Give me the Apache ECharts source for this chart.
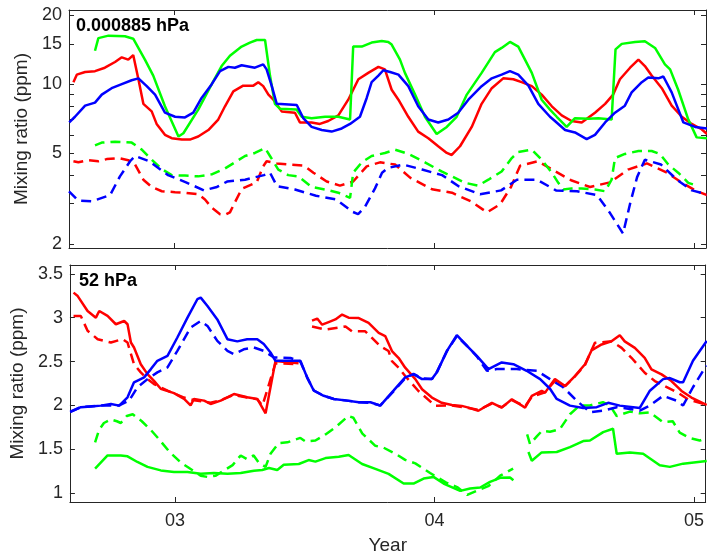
<!DOCTYPE html>
<html>
<head>
<meta charset="utf-8">
<script src="https://cdn.jsdelivr.net/npm/echarts@6/dist/echarts.min.js"></script>
<style>
  html, body { margin: 0; padding: 0; background: #fff; }
  #chart { width: 707px; height: 556px; }
</style>
</head>
<body>
<div id="chart"></div>
<script>
// axis ticks / labels
const xTicks = [2003, 2004, 2005];
const topTicks = [2, 5, 10, 15, 20];
const topMinorTicks = [2, 3, 4, 5, 6, 7, 8, 9, 10, 15, 20];
const bottomTicks = [1, 1.5, 2, 2.5, 3, 3.5];
const panelLabels = ["0.000885 hPa", "52 hPa"];

// upper panel (0.000885 hPa), ppm
const topRedSolid = [[2002.612,10.2],[2002.625,11.0],[2002.657,11.3],[2002.695,11.4],[2002.733,11.8],[2002.772,12.5],[2002.798,13.1],[2002.823,12.8],[2002.842,13.4],[2002.862,10.5],[2002.881,8.2],[2002.913,7.6],[2002.932,6.7],[2002.964,6.0],[2002.990,5.8],[2003.029,5.72],[2003.060,5.72],[2003.092,5.9],[2003.131,6.3],[2003.169,7.0],[2003.195,8.0],[2003.227,9.3],[2003.265,9.85],[2003.304,9.85],[2003.323,10.2],[2003.342,9.8],[2003.362,9.0],[2003.381,8.55],[2003.413,7.6],[2003.464,7.5],[2003.483,6.8],[2003.528,6.8],[2003.560,6.7],[2003.592,6.9],[2003.631,7.3],[2003.669,8.55],[2003.708,10.5],[2003.746,11.2],[2003.785,11.9],[2003.810,11.6],[2003.836,9.45],[2003.862,8.55],[2003.900,7.2],[2003.938,6.2],[2003.977,5.8],[2004.015,5.35],[2004.048,5.0],[2004.067,4.9],[2004.099,5.35],[2004.144,6.5],[2004.182,8.2],[2004.221,9.6],[2004.265,10.6],[2004.304,10.5],[2004.336,10.2],[2004.375,9.8],[2004.413,9.0],[2004.452,8.0],[2004.490,7.3],[2004.528,6.9],[2004.567,6.8],[2004.618,7.5],[2004.657,8.2],[2004.688,9.0],[2004.714,10.5],[2004.753,11.8],[2004.785,12.8],[2004.810,12.0],[2004.836,10.9],[2004.875,9.6],[2004.913,8.05],[2004.952,7.2],[2004.990,6.7],[2005.028,6.35],[2005.049,6.05]];
const topGreenSolid = [[2002.695,14.0],[2002.708,15.9],[2002.747,16.3],[2002.810,16.2],[2002.842,15.8],[2002.887,12.8],[2002.919,10.9],[2002.964,8.0],[2003.016,5.9],[2003.035,6.1],[2003.092,7.74],[2003.144,10.0],[2003.182,12.0],[2003.214,13.3],[2003.259,14.6],[2003.291,15.2],[2003.317,15.6],[2003.349,15.6],[2003.368,10.9],[2003.387,8.2],[2003.407,7.8],[2003.470,7.74],[2003.490,7.2],[2003.528,7.1],[2003.580,7.2],[2003.631,7.2],[2003.676,7.0],[2003.688,14.6],[2003.721,14.6],[2003.759,15.2],[2003.798,15.45],[2003.823,15.3],[2003.836,14.9],[2003.868,12.8],[2003.887,11.2],[2003.926,9.0],[2003.964,7.2],[2004.009,6.05],[2004.048,6.5],[2004.086,7.2],[2004.125,9.0],[2004.182,11.2],[2004.233,13.8],[2004.259,14.4],[2004.291,15.3],[2004.323,14.6],[2004.375,11.2],[2004.413,8.55],[2004.445,7.74],[2004.471,7.2],[2004.509,6.5],[2004.541,7.1],[2004.593,7.05],[2004.631,7.1],[2004.682,7.0],[2004.697,14.2],[2004.721,15.0],[2004.772,15.3],[2004.810,15.4],[2004.849,14.4],[2004.887,12.2],[2004.907,11.6],[2004.938,9.45],[2004.977,7.0],[2005.009,5.85],[2005.049,5.8]];
const topBlueSolid = [[2002.596,6.8],[2002.618,7.2],[2002.657,8.05],[2002.695,8.3],[2002.721,9.0],[2002.759,9.6],[2002.798,10.0],[2002.836,10.4],[2002.862,10.6],[2002.894,9.8],[2002.926,9.0],[2002.964,7.5],[2003.003,7.2],[2003.041,7.15],[2003.073,7.5],[2003.105,8.7],[2003.144,10.0],[2003.176,11.4],[2003.208,11.9],[2003.233,11.8],[2003.259,12.1],[2003.310,11.8],[2003.342,12.2],[2003.355,11.6],[2003.375,9.8],[2003.394,8.2],[2003.471,8.1],[2003.496,7.1],[2003.528,6.5],[2003.567,6.3],[2003.605,6.2],[2003.644,6.4],[2003.676,6.7],[2003.714,7.2],[2003.740,8.7],[2003.759,10.2],[2003.785,10.9],[2003.804,11.5],[2003.830,11.3],[2003.862,11.0],[2003.900,9.8],[2003.938,8.0],[2003.977,7.0],[2004.015,6.8],[2004.054,7.0],[2004.092,7.5],[2004.131,8.55],[2004.182,9.8],[2004.221,10.6],[2004.259,11.0],[2004.291,11.4],[2004.323,11.0],[2004.362,9.85],[2004.400,8.2],[2004.445,7.2],[2004.464,6.9],[2004.503,6.3],[2004.541,6.15],[2004.586,5.75],[2004.618,6.0],[2004.657,6.8],[2004.695,7.5],[2004.733,8.05],[2004.759,9.2],[2004.798,10.2],[2004.823,10.7],[2004.862,10.6],[2004.881,10.8],[2004.913,9.2],[2004.958,6.8],[2005.003,6.5],[2005.049,6.4]];
const topRedDashed = [[2002.612,4.6],[2002.631,4.55],[2002.669,4.65],[2002.708,4.6],[2002.740,4.7],[2002.785,4.75],[2002.823,4.65],[2002.849,4.45],[2002.881,3.82],[2002.913,3.55],[2002.952,3.4],[2003.003,3.37],[2003.041,3.35],[2003.092,3.3],[2003.118,3.13],[2003.144,2.88],[2003.176,2.7],[2003.195,2.68],[2003.214,2.75],[2003.259,3.48],[2003.317,3.72],[2003.342,4.37],[2003.355,4.6],[2003.394,4.5],[2003.445,4.45],[2003.499,4.4],[2003.535,4.1],[2003.586,3.75],[2003.637,3.6],[2003.688,3.75],[2003.740,4.37],[2003.791,4.55],[2003.849,4.45],[2003.907,3.9],[2003.991,3.47],[2004.068,3.35],[2004.141,3.07],[2004.203,2.75],[2004.253,2.98],[2004.295,3.55],[2004.330,4.4],[2004.399,4.6],[2004.453,4.23],[2004.526,3.8],[2004.599,3.55],[2004.676,3.72],[2004.745,4.23],[2004.818,4.5],[2004.895,4.1],[2004.953,3.7],[2005.010,3.4],[2005.049,3.27]];
const topGreenDashed = [[2002.695,5.4],[2002.721,5.55],[2002.772,5.6],[2002.836,5.55],[2002.875,5.17],[2002.913,4.67],[2002.952,4.25],[2002.990,4.0],[2003.041,3.98],[2003.092,3.95],[2003.144,4.03],[2003.195,4.28],[2003.233,4.55],[2003.272,4.85],[2003.310,5.0],[2003.349,5.25],[2003.368,4.85],[2003.400,4.23],[2003.438,4.0],[2003.477,3.95],[2003.528,3.55],[2003.580,3.46],[2003.631,3.35],[2003.676,3.18],[2003.688,4.1],[2003.721,4.55],[2003.759,4.85],[2003.810,5.0],[2003.849,5.17],[2003.900,4.95],[2003.964,4.55],[2004.028,4.15],[2004.067,3.95],[2004.118,3.7],[2004.169,3.6],[2004.208,3.82],[2004.259,4.15],[2004.298,4.75],[2004.323,5.05],[2004.375,5.17],[2004.413,4.67],[2004.452,4.1],[2004.477,3.7],[2004.496,3.46],[2004.528,3.5],[2004.567,3.5],[2004.618,3.46],[2004.657,3.4],[2004.682,3.82],[2004.695,4.75],[2004.733,4.95],[2004.785,5.1],[2004.836,5.1],[2004.868,4.95],[2004.900,4.45],[2004.938,4.1],[2004.977,3.7],[2005.009,3.6]];
const topBlueDashed = [[2002.595,3.4],[2002.630,3.1],[2002.683,3.07],[2002.753,3.27],[2002.791,3.95],[2002.830,4.6],[2002.849,4.85],[2002.903,4.6],[2002.976,4.0],[2003.045,3.72],[2003.114,3.43],[2003.164,3.55],[2003.203,3.75],[2003.272,3.82],[2003.345,4.0],[2003.368,4.1],[2003.395,3.58],[2003.464,3.46],[2003.545,3.25],[2003.622,3.13],[2003.687,2.76],[2003.707,2.7],[2003.733,2.9],[2003.772,3.5],[2003.799,4.1],[2003.822,4.3],[2003.880,4.45],[2003.953,4.23],[2004.030,4.0],[2004.095,3.57],[2004.176,3.3],[2004.257,3.43],[2004.318,3.82],[2004.395,3.82],[2004.468,3.43],[2004.549,3.4],[2004.626,3.27],[2004.676,2.73],[2004.726,2.22],[2004.753,3.0],[2004.780,3.92],[2004.810,4.67],[2004.872,4.45],[2004.933,3.82],[2004.991,3.43],[2005.049,3.3]];

// lower panel (52 hPa), ppm
const bottomRedSolid = [[2002.609,3.285],[2002.625,3.246],[2002.663,3.076],[2002.695,3.0],[2002.708,3.076],[2002.740,3.02],[2002.772,2.925],[2002.804,2.962],[2002.817,2.925],[2002.830,2.717],[2002.842,2.66],[2002.868,2.47],[2002.894,2.357],[2002.919,2.28],[2002.945,2.19],[2002.996,2.14],[2003.035,2.074],[2003.060,2.0],[2003.073,2.074],[2003.112,2.055],[2003.137,2.017],[2003.176,2.055],[2003.227,2.13],[2003.278,2.093],[2003.317,2.074],[2003.349,1.91],[2003.387,2.505],[2003.476,2.48],[2003.500,null],[2003.528,2.966],[2003.548,2.99],[2003.567,2.92],[2003.592,2.95],[2003.618,2.98],[2003.644,3.035],[2003.669,3.0],[2003.708,2.996],[2003.746,2.94],[2003.785,2.826],[2003.810,2.79],[2003.836,2.62],[2003.862,2.54],[2003.887,2.43],[2003.926,2.30],[2003.952,2.184],[2003.990,2.09],[2004.028,2.03],[2004.067,2.006],[2004.105,1.995],[2004.131,1.975],[2004.169,1.94],[2004.221,2.03],[2004.259,1.975],[2004.298,2.07],[2004.349,1.975],[2004.375,2.108],[2004.413,2.165],[2004.426,2.146],[2004.464,2.30],[2004.503,2.22],[2004.541,2.335],[2004.580,2.47],[2004.605,2.627],[2004.644,2.695],[2004.682,2.73],[2004.714,2.8],[2004.733,2.73],[2004.772,2.656],[2004.810,2.543],[2004.836,2.41],[2004.875,2.354],[2004.913,2.278],[2004.952,2.165],[2004.990,2.09],[2005.049,2.006]];
const bottomRedDashed = [[2002.609,3.02],[2002.637,3.02],[2002.663,2.85],[2002.702,2.755],[2002.753,2.717],[2002.798,2.755],[2002.817,2.717],[2002.842,2.47],[2002.868,2.377],[2002.894,2.30],[2002.919,2.244],[2002.971,2.168],[2003.035,2.09],[2003.073,2.06],[2003.137,2.03],[2003.176,2.06],[2003.227,2.12],[2003.278,2.09],[2003.317,2.07],[2003.337,2.0],[2003.387,2.48],[2003.476,2.47],[2003.500,null],[2003.528,2.9],[2003.580,2.865],[2003.657,2.9],[2003.682,2.845],[2003.733,2.845],[2003.759,2.77],[2003.791,2.675],[2003.823,2.62],[2003.836,2.505],[2003.862,2.43],[2003.887,2.335],[2003.938,2.165],[2004.003,1.995],[2004.067,2.0],[2004.131,1.97],[2004.169,1.95],[2004.221,2.02],[2004.259,1.98],[2004.298,2.06],[2004.349,1.99],[2004.375,2.1],[2004.426,2.15],[2004.464,2.28],[2004.503,2.22],[2004.541,2.33],[2004.580,2.46],[2004.618,2.713],[2004.682,2.73],[2004.721,2.656],[2004.759,2.543],[2004.810,2.372],[2004.849,2.278],[2004.887,2.22],[2004.938,2.146],[2004.977,2.07],[2005.049,2.006]];
const bottomGreenSolid = [[2002.692,1.28],[2002.740,1.43],[2002.791,1.43],[2002.817,1.42],[2002.855,1.356],[2002.894,1.30],[2002.945,1.26],[2002.996,1.243],[2003.048,1.243],[2003.099,1.223],[2003.150,1.23],[2003.202,1.223],[2003.253,1.23],[2003.304,1.257],[2003.336,1.265],[2003.362,1.288],[2003.394,1.265],[2003.419,1.325],[2003.477,1.333],[2003.515,1.378],[2003.541,1.36],[2003.580,1.40],[2003.631,1.415],[2003.669,1.435],[2003.721,1.333],[2003.772,1.277],[2003.823,1.22],[2003.881,1.11],[2003.919,1.11],[2003.958,1.167],[2003.996,1.186],[2004.035,1.11],[2004.099,1.027],[2004.137,1.053],[2004.176,1.065],[2004.214,1.13],[2004.253,1.175],[2004.291,1.178],[2004.304,1.147],[2004.330,null],[2004.362,1.47],[2004.375,1.37],[2004.413,1.465],[2004.471,1.47],[2004.522,1.526],[2004.573,1.594],[2004.599,1.60],[2004.650,1.696],[2004.688,1.734],[2004.702,1.45],[2004.753,1.465],[2004.804,1.45],[2004.868,1.318],[2004.907,1.30],[2004.958,1.337],[2005.049,1.368]];
const bottomGreenDashed = [[2002.692,1.58],[2002.707,1.72],[2002.726,1.80],[2002.753,1.84],[2002.776,1.82],[2002.791,1.80],[2002.814,1.88],[2002.837,1.90],[2002.872,1.82],[2002.907,1.72],[2002.937,1.62],[2002.976,1.48],[2003.022,1.35],[2003.053,1.29],[2003.099,1.2],[2003.126,1.185],[2003.157,1.2],[2003.183,1.25],[2003.222,1.32],[2003.253,1.43],[2003.276,1.39],[2003.303,1.43],[2003.322,1.35],[2003.349,1.30],[2003.368,1.45],[2003.399,1.57],[2003.433,1.58],[2003.483,1.63],[2003.503,1.59],[2003.541,1.6],[2003.580,1.67],[2003.618,1.75],[2003.668,1.88],[2003.687,1.86],[2003.722,1.68],[2003.772,1.54],[2003.803,1.52],[2003.849,1.45],[2003.887,1.38],[2003.926,1.34],[2003.983,1.23],[2004.045,1.12],[2004.087,1.07],[2004.126,0.98],[2004.164,1.03],[2004.207,1.08],[2004.253,1.2],[2004.303,1.28],[2004.330,null],[2004.357,1.67],[2004.368,1.56],[2004.395,1.65],[2004.414,1.71],[2004.445,1.70],[2004.483,1.73],[2004.522,1.90],[2004.560,2.0],[2004.599,2.0],[2004.649,2.037],[2004.676,2.0],[2004.702,1.88],[2004.753,1.93],[2004.791,1.91],[2004.830,1.92],[2004.880,1.81],[2004.918,1.82],[2004.945,1.69],[2004.983,1.63],[2005.022,1.60],[2005.049,1.63]];
const bottomBlueSolid = [[2002.596,1.923],[2002.637,1.98],[2002.676,1.987],[2002.714,1.998],[2002.753,2.017],[2002.785,1.998],[2002.817,2.093],[2002.842,2.264],[2002.881,2.32],[2002.907,2.414],[2002.932,2.509],[2002.971,2.565],[2003.009,2.774],[2003.048,3.0],[2003.086,3.21],[2003.099,3.228],[2003.125,3.132],[2003.163,2.98],[2003.202,2.755],[2003.240,2.73],[2003.278,2.755],[2003.317,2.755],[2003.342,2.70],[2003.368,2.604],[2003.387,2.509],[2003.483,2.509],[2003.509,2.32],[2003.535,2.168],[2003.573,2.11],[2003.612,2.074],[2003.663,2.055],[2003.708,2.037],[2003.753,2.037],[2003.791,1.998],[2003.842,2.168],[2003.887,2.32],[2003.919,2.357],[2003.952,2.30],[2003.990,2.30],[2004.009,2.377],[2004.048,2.622],[2004.086,2.80],[2004.125,2.678],[2004.163,2.565],[2004.208,2.414],[2004.259,2.49],[2004.304,2.47],[2004.355,2.395],[2004.407,2.30],[2004.445,2.19],[2004.471,2.074],[2004.522,1.998],[2004.573,1.972],[2004.625,1.98],[2004.669,2.03],[2004.714,1.998],[2004.791,1.972],[2004.830,2.168],[2004.881,2.30],[2004.907,2.312],[2004.945,2.264],[2004.958,2.264],[2004.996,2.509],[2005.049,2.735]];
const bottomBlueDashed = [[2002.596,1.93],[2002.637,1.98],[2002.714,2.0],[2002.785,2.0],[2002.823,2.055],[2002.855,2.207],[2002.894,2.30],[2002.932,2.377],[2002.971,2.434],[2003.009,2.622],[2003.060,2.887],[2003.099,2.962],[2003.125,2.906],[2003.163,2.735],[2003.202,2.622],[2003.227,2.585],[2003.265,2.64],[2003.304,2.66],[2003.342,2.622],[2003.381,2.547],[2003.445,2.54],[2003.483,2.50],[2003.509,2.32],[2003.535,2.17],[2003.573,2.11],[2003.612,2.074],[2003.663,2.055],[2003.708,2.037],[2003.753,2.03],[2003.791,2.0],[2003.842,2.16],[2003.887,2.31],[2003.919,2.36],[2003.952,2.31],[2003.990,2.30],[2004.009,2.38],[2004.048,2.62],[2004.086,2.79],[2004.125,2.68],[2004.163,2.56],[2004.202,2.395],[2004.240,2.414],[2004.317,2.414],[2004.394,2.395],[2004.445,2.30],[2004.496,2.207],[2004.548,2.055],[2004.599,1.923],[2004.650,1.94],[2004.702,1.98],[2004.753,1.96],[2004.791,1.94],[2004.830,2.0],[2004.881,2.11],[2004.932,2.055],[2004.958,2.0],[2004.996,2.207],[2005.035,2.395],[2005.049,2.452]];

const xMin = 2002.595, xMax = 2005.045;
const topMin = 1.92, topMax = 21.1;
const bottomMin = 0.9, bottomMax = 3.6;

const RED = "#ff0000", GREEN = "#00ff00", BLUE = "#0000ff";
const FONT = "'Liberation Sans', Arial, Helvetica, sans-serif";
const ink = "#262626";
const lineCfg = { show: true, lineStyle: { color: ink, width: 1 } };

function ticks(values) {
  return { show: true, inside: true, length: 5, customValues: values, lineStyle: { color: ink, width: 1 } };
}
const noLabel = { show: false };
const labelStyle = { color: ink, fontSize: 18, fontFamily: FONT };
const nameStyle = { color: ink, fontSize: 19, fontFamily: FONT };

function xAxisFor(gridIndex, position, withLabels) {
  const ax = {
    type: "value", gridIndex, position, min: xMin, max: xMax,
    axisLine: lineCfg, axisTick: ticks(xTicks), splitLine: { show: false },
    axisLabel: withLabels
      ? { ...labelStyle, margin: 10, customValues: xTicks, formatter: (v) => String(v).slice(2) }
      : noLabel,
  };
  if (withLabels) {
    Object.assign(ax, { name: "Year", nameLocation: "middle", nameGap: 34, nameTextStyle: nameStyle });
  }
  return ax;
}

const log10 = (v) => Math.log10(v);

function series(data, color, dashed, x, y) {
  return {
    type: "line", xAxisIndex: x, yAxisIndex: y, data,
    showSymbol: false, symbol: "none", connectNulls: false, animation: false,
    lineStyle: { color, width: 2.5, type: dashed ? [10, 6] : "solid" },
  };
}

const chart = echarts.init(document.getElementById("chart"));
chart.setOption({
  animation: false,
  backgroundColor: "#fff",
  grid: [
    { left: 69, top: 10, width: 637, height: 238 },
    { left: 69, top: 265, width: 637, height: 238 },
  ],
  xAxis: [
    xAxisFor(0, "bottom", false),
    xAxisFor(0, "top", false),
    xAxisFor(1, "bottom", true),
    xAxisFor(1, "top", false),
  ],
  yAxis: [
    // data axis of the upper panel (log scale)
    { type: "log", gridIndex: 0, min: topMin, max: topMax, show: false },
    // tick/label axes of the upper panel, in log10 space
    {
      type: "value", gridIndex: 0, position: "left", min: log10(topMin), max: log10(topMax),
      axisLine: lineCfg, axisTick: ticks(topMinorTicks.map(log10)), splitLine: { show: false },
      axisLabel: { ...labelStyle, margin: 7, customValues: topTicks.map(log10), formatter: (v) => String(Math.round(Math.pow(10, v))) },
      name: "Mixing ratio (ppm)", nameLocation: "middle", nameGap: 37, nameTextStyle: nameStyle,
    },
    {
      type: "value", gridIndex: 0, position: "right", min: log10(topMin), max: log10(topMax),
      axisLine: lineCfg, axisTick: ticks(topMinorTicks.map(log10)), splitLine: { show: false }, axisLabel: noLabel,
    },
    {
      type: "value", gridIndex: 1, position: "left", min: bottomMin, max: bottomMax,
      axisLine: lineCfg, axisTick: ticks(bottomTicks), splitLine: { show: false },
      axisLabel: { ...labelStyle, margin: 7, customValues: bottomTicks },
      name: "Mixing ratio (ppm)", nameLocation: "middle", nameGap: 37, nameTextStyle: nameStyle,
    },
    {
      type: "value", gridIndex: 1, position: "right", min: bottomMin, max: bottomMax,
      axisLine: lineCfg, axisTick: ticks(bottomTicks), splitLine: { show: false }, axisLabel: noLabel,
    },
  ],
  graphic: [
    { type: "text", left: 76, top: 17, style: { text: panelLabels[0], font: `bold 18px ${FONT}`, fill: "#000" } },
    { type: "text", left: 79, top: 272, style: { text: panelLabels[1], font: `bold 18px ${FONT}`, fill: "#000" } },
  ],
  series: [
    series(topRedDashed, RED, true, 0, 0),
    series(topGreenDashed, GREEN, true, 0, 0),
    series(topBlueDashed, BLUE, true, 0, 0),
    series(topRedSolid, RED, false, 0, 0),
    series(topGreenSolid, GREEN, false, 0, 0),
    series(topBlueSolid, BLUE, false, 0, 0),
    series(bottomRedDashed, RED, true, 2, 3),
    series(bottomGreenDashed, GREEN, true, 2, 3),
    series(bottomBlueDashed, BLUE, true, 2, 3),
    series(bottomRedSolid, RED, false, 2, 3),
    series(bottomGreenSolid, GREEN, false, 2, 3),
    series(bottomBlueSolid, BLUE, false, 2, 3),
  ],
});
</script>
</body>
</html>
